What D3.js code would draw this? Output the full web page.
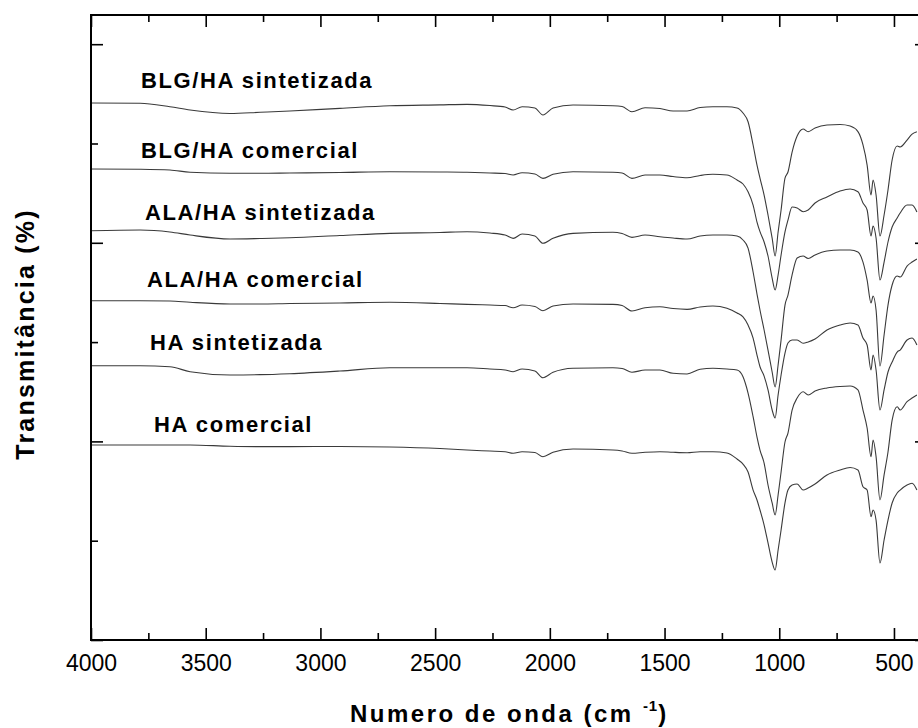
<!DOCTYPE html>
<html>
<head>
<meta charset="utf-8">
<script src="https://cdn.jsdelivr.net/npm/d3@7"></script>
<style>
  html, body { margin: 0; padding: 0; background: #fff; }
  svg { display: block; font-family: "Liberation Sans", Arial, Helvetica, sans-serif; }
</style>
</head>
<body>
<svg id="chart" width="918" height="728"></svg>
<script>
// FTIR spectra, wavenumber axis (cm-1), shared by every series
const wavenumbers = [4000,3786,3656,3568,3394,3263,3133,2915,2697,2479,2361,2261,2195,2160,2121,2065,2030,1986,1899,1725,1685,1642,1585,1520,1463,1402,1345,1289,1228,1184,1158,1136,1114,1097,1084,1066,1049,1031,1018,1005,992,975,962,944,922,896,874,844,792,735,691,657,635,617,600,591,578,561,543,526,508,486,473,443,421,400];

// Series names (top to bottom)
const seriesNames = ["BLG/HA sintetizada", "BLG/HA comercial", "ALA/HA sintetizada", "ALA/HA comercial", "HA sintetizada", "HA comercial"];

// Transmittance (stacked, arbitrary offset units)
const blgSintetizada = [540.8,540.5,537.0,533.7,530.2,531.4,532.7,535.4,538.0,538.9,539.4,538.2,536.7,533.7,537.0,535.7,528.7,535.7,538.7,538.0,537.2,532.0,536.0,535.2,532.7,532.7,536.2,537.0,537.0,535.7,530.7,521.9,498.5,478.3,465.2,448.1,428.0,404.8,386.7,410.9,433.0,465.2,471.3,491.4,507.5,514.6,511.9,515.6,518.6,519.1,517.6,511.9,498.5,478.3,448.1,463.2,448.1,406.8,428.0,453.2,483.4,497.5,496.5,503.5,509.5,511.9];
const blgComercial = [474.3,474.0,473.3,471.0,470.0,470.0,470.3,470.8,471.6,471.3,471.0,470.3,469.8,468.3,470.6,469.3,464.9,469.0,471.6,471.0,470.3,464.9,468.3,468.3,466.7,465.5,467.8,469.0,468.3,463.2,459.2,451.4,438.0,420.9,411.2,400.8,386.7,364.5,352.5,367.6,387.7,410.9,422.9,436.0,435.0,431.3,433.0,440.1,446.1,452.1,454.2,451.4,440.1,433.0,406.8,416.9,404.8,362.5,380.6,400.8,415.9,425.0,430.0,438.0,438.0,431.0];
const alaSintetizada = [412.2,412.9,410.9,407.8,403.8,404.3,405.1,407.3,409.5,410.4,411.2,409.8,407.8,404.5,408.8,406.8,399.5,404.5,409.5,410.6,409.3,405.5,407.8,406.1,404.8,403.8,406.8,407.8,407.8,406.8,402.8,394.7,370.6,348.4,332.3,312.2,292.0,269.9,254.8,276.9,302.1,337.3,347.4,367.6,384.7,386.7,384.2,387.7,391.7,392.7,392.7,390.7,380.6,362.5,339.4,346.4,332.3,275.9,307.1,337.3,357.5,366.5,365.5,376.6,380.6,383.7];
const alaComercial = [341.7,341.7,341.4,340.1,338.4,338.4,338.9,339.4,340.1,338.9,338.0,337.3,336.8,334.6,337.3,335.8,331.6,336.3,338.4,338.0,336.8,331.3,334.6,335.6,333.8,333.0,335.3,336.3,334.0,329.3,325.3,317.2,304.1,287.0,275.2,265.8,251.8,231.6,223.6,246.7,266.9,289.0,299.1,302.1,302.1,298.8,300.1,303.1,312.2,317.2,319.2,317.2,304.1,297.1,271.9,287.0,271.9,231.6,251.8,269.9,279.9,290.0,292.0,302.1,304.1,297.1];
const haSintetizada = [276.2,276.2,275.2,270.2,266.9,267.2,268.2,270.9,274.2,274.2,274.2,272.9,271.9,270.2,272.9,270.9,264.1,269.6,273.6,274.2,273.4,269.6,271.9,271.9,268.6,267.9,272.6,273.6,272.9,271.9,265.1,248.7,224.9,204.4,191.3,178.2,156.1,138.0,125.9,146.0,169.2,199.4,208.4,231.6,243.7,250.0,246.7,250.7,253.8,255.3,255.8,251.8,231.6,213.5,184.6,201.4,184.6,141.0,166.2,189.3,221.5,234.9,231.6,240.0,243.7,246.7];
const haComercial = [196.4,196.4,196.4,196.4,195.1,194.7,194.7,194.9,194.4,192.8,191.3,190.3,189.6,188.0,189.6,188.8,184.6,189.0,192.3,191.3,190.3,188.0,189.0,189.6,189.0,188.6,189.6,189.6,188.3,182.3,177.2,169.2,151.0,141.0,130.9,115.8,97.7,78.5,70.5,90.6,110.8,138.0,151.0,156.1,157.1,151.0,153.1,157.1,166.2,171.2,173.7,171.2,154.4,151.0,124.2,130.9,120.8,77.5,100.7,120.8,138.0,148.0,151.0,156.1,157.8,151.0];

const seriesValues = [blgSintetizada, blgComercial, alaSintetizada, alaComercial, haSintetizada, haComercial];

// Tick values
const xMajorTicks = [4000, 3500, 3000, 2500, 2000, 1500, 1000, 500];
const xMinorTicks = [3750, 3250, 2750, 2250, 1750, 1250, 750];
const yMajorTicks = [0, 200, 400, 600];
const yMinorTicks = [100, 300, 500];

// Layout
const plot = { left: 91, right: 927, top: 15, bottom: 640 };
const labelPos = [[141, 88], [141, 158], [145, 220], [147, 287], [150, 350], [154, 432]];

const svg = d3.select("#chart");

const x = d3.scaleLinear().domain([4000, 356]).range([plot.left, plot.right]);
const y = d3.scaleLinear().domain([0, 629.4]).range([plot.bottom, plot.top]);

// Spectra
const line = d3.line()
  .x(d => x(d[0]))
  .y(d => y(d[1]))
  .curve(d3.curveMonotoneX);

svg.append("g")
  .selectAll("path")
  .data(seriesValues.map(vals => wavenumbers.map((w, i) => [w, vals[i]])))
  .join("path")
  .attr("d", line)
  .attr("fill", "none")
  .attr("stroke", "#3a3a3a")
  .attr("stroke-width", 1.1)
  .attr("stroke-linejoin", "round");

// Axes with inward ticks
function styleAxis(g) {
  g.select(".domain").remove();
  g.selectAll(".tick line").attr("stroke", "#000").attr("stroke-width", 1.6);
}

svg.append("g")
  .attr("transform", `translate(0,${plot.bottom})`)
  .call(d3.axisBottom(x).tickValues(xMajorTicks).tickSize(-12).tickPadding(15).tickFormat(d3.format("d")))
  .call(styleAxis)
  .call(g => g.selectAll("text")
    .attr("fill", "#000")
    .style("font-size", "23px")
    .style("font-family", "'Liberation Sans', Arial, sans-serif"));

svg.append("g")
  .attr("transform", `translate(0,${plot.bottom})`)
  .call(d3.axisBottom(x).tickValues(xMinorTicks).tickSize(-7).tickFormat(""))
  .call(styleAxis);

svg.append("g")
  .attr("transform", `translate(0,${plot.top})`)
  .call(d3.axisTop(x).tickValues(xMajorTicks).tickSize(-12).tickFormat(""))
  .call(styleAxis);

svg.append("g")
  .attr("transform", `translate(0,${plot.top})`)
  .call(d3.axisTop(x).tickValues(xMinorTicks).tickSize(-7).tickFormat(""))
  .call(styleAxis);

svg.append("g")
  .attr("transform", `translate(${plot.left},0)`)
  .call(d3.axisLeft(y).tickValues(yMajorTicks).tickSize(-12).tickFormat(""))
  .call(styleAxis);

svg.append("g")
  .attr("transform", `translate(${plot.left},0)`)
  .call(d3.axisLeft(y).tickValues(yMinorTicks).tickSize(-7).tickFormat(""))
  .call(styleAxis);

svg.append("g")
  .attr("transform", `translate(${plot.right},0)`)
  .call(d3.axisRight(y).tickValues(yMajorTicks).tickSize(-12).tickFormat(""))
  .call(styleAxis);

svg.append("g")
  .attr("transform", `translate(${plot.right},0)`)
  .call(d3.axisRight(y).tickValues(yMinorTicks).tickSize(-7).tickFormat(""))
  .call(styleAxis);

// Frame
svg.append("rect")
  .attr("x", plot.left)
  .attr("y", plot.top)
  .attr("width", plot.right - plot.left)
  .attr("height", plot.bottom - plot.top)
  .attr("fill", "none")
  .attr("stroke", "#000")
  .attr("stroke-width", 2);

// Series labels
svg.append("g")
  .selectAll("text")
  .data(seriesNames)
  .join("text")
  .attr("x", (d, i) => labelPos[i][0])
  .attr("y", (d, i) => labelPos[i][1])
  .attr("fill", "#000")
  .style("font-size", "22px")
  .style("font-weight", "bold")
  .style("letter-spacing", "1.6px")
  .text(d => d);

// Axis titles
const xTitle = svg.append("text")
  .attr("x", 350)
  .attr("y", 722)
  .attr("fill", "#000")
  .style("font-size", "24px")
  .style("font-weight", "bold")
  .style("letter-spacing", "2.5px");
xTitle.append("tspan").text("Numero de onda (cm ");
xTitle.append("tspan").attr("dy", -11).style("font-size", "15px").style("letter-spacing", "1px").text("-1");
xTitle.append("tspan").attr("dy", 11).text(")");

svg.append("text")
  .attr("transform", "translate(34,334) rotate(-90)")
  .attr("text-anchor", "middle")
  .attr("fill", "#000")
  .style("font-size", "25px")
  .style("font-weight", "bold")
  .style("letter-spacing", "2.2px")
  .text("Transmitância (%)");
</script>
</body>
</html>
